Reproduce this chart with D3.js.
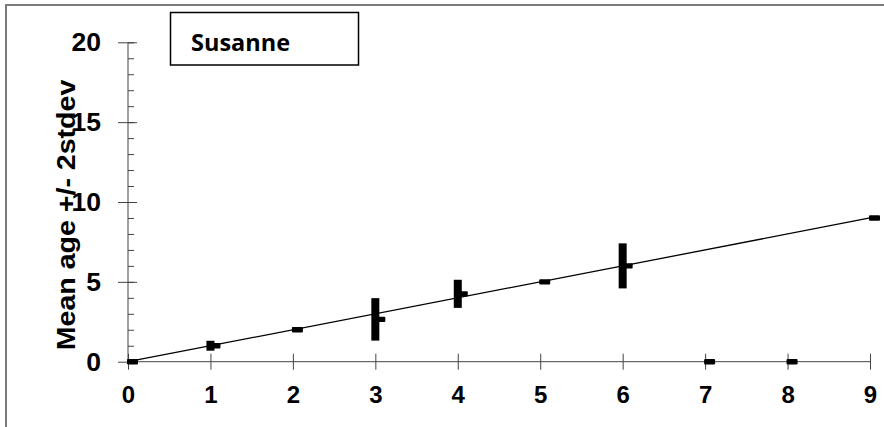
<!DOCTYPE html>
<html>
<head>
<meta charset="utf-8">
<script src="https://cdn.jsdelivr.net/npm/d3@7"></script>
<style>
  html, body { margin: 0; padding: 0; background: #fff; }
  svg { display: block; }
</style>
</head>
<body>
<svg id="chart" width="884" height="427"></svg>
<script>
// ---- data ----
const ages = [0, 1, 2, 3, 4, 5, 6, 7, 8, 9];
const meanAge = [0, 1.0, 2.0, 2.65, 4.25, 5.0, 6.0, 0, 0, 9.0];
const twoStdev = [0, 0.31, 0, 1.33, 0.88, 0, 1.41, 0, 0, 0];
const refLineX = [0, 9];
const refLineY = [0, 9];
const xTicks = [0, 1, 2, 3, 4, 5, 6, 7, 8, 9];
const yTicks = [0, 5, 10, 15, 20];
const yMinorTicks = d3.range(0, 21, 1);
const legendLabel = "Susanne";
const yTitle = "Mean age +/- 2stdev";

const svg = d3.select("#chart");
const font = "'Liberation Sans', Arial, sans-serif";

// outer chart frame
svg.append("rect")
  .attr("x", 6).attr("y", 5).attr("width", 900).attr("height", 440)
  .attr("fill", "none").attr("stroke", "#7a7a7a").attr("stroke-width", 2);

const x = d3.scaleLinear().domain([0, 9]).range([128, 870]);
const y = d3.scaleLinear().domain([0, 20]).range([361.7, 42.3]);

// y minor ticks (inside, right)
const yMinor = d3.axisRight(y).tickValues(yMinorTicks).tickSize(6).tickFormat("");
svg.append("g").attr("transform", `translate(${x(0)},0)`).call(yMinor)
  .call(g => g.select(".domain").remove())
  .call(g => g.selectAll("line").attr("stroke", "#444"));

// y major ticks (cross)
const yAxis = d3.axisLeft(y).tickValues(yTicks).tickSize(10).tickPadding(17).tickFormat(d3.format("d"));
const gy = svg.append("g").attr("transform", `translate(${x(0)},0)`).call(yAxis);
gy.select(".domain").attr("stroke", "#444").attr("d", `M0,${y(0)}V${y(20)}`);
gy.selectAll(".tick line").attr("x1", 9).attr("x2", -10).attr("stroke", "#444");
gy.selectAll(".tick text")
  .attr("font-family", font).attr("font-weight", "bold").attr("font-size", 26.5)
  .attr("fill", "#000");

// x axis
const xAxis = d3.axisBottom(x).tickValues(xTicks).tickSize(8).tickPadding(16).tickFormat(d3.format("d"));
const gx = svg.append("g").attr("transform", `translate(0,${y(0)})`).call(xAxis);
gx.select(".domain").attr("stroke", "#444").attr("d", `M${x(0)},0H${x(9)}`);
gx.selectAll(".tick line").attr("y1", -8).attr("y2", 8).attr("stroke", "#444");
gx.selectAll(".tick text")
  .attr("font-family", font).attr("font-weight", "bold").attr("font-size", 24)
  .attr("fill", "#000");

// reference line y = x
svg.append("path")
  .datum(refLineX.map((d, i) => [d, refLineY[i]]))
  .attr("d", d3.line().x(d => x(d[0])).y(d => y(d[1])))
  .attr("fill", "none").attr("stroke", "#000").attr("stroke-width", 1.3);

const pts = ages.map((a, i) => ({ age: a, mean: meanAge[i], sd2: twoStdev[i] }));

// error bars (thick)
svg.append("g").selectAll("rect").data(pts.filter(d => d.sd2 > 0)).join("rect")
  .attr("x", d => x(d.age) - 4)
  .attr("width", 8)
  .attr("y", d => y(d.mean + d.sd2))
  .attr("height", d => y(d.mean - d.sd2) - y(d.mean + d.sd2))
  .attr("fill", "#000");

// mean markers (dash)
svg.append("g").selectAll("rect").data(pts).join("rect")
  .attr("x", d => x(d.age) + 4.5 - 5.5)
  .attr("y", d => y(d.mean) - 2.7)
  .attr("width", 11)
  .attr("height", 5.4)
  .attr("rx", 1)
  .attr("fill", "#000");

// y title
svg.append("text")
  .attr("transform", "translate(75,215) rotate(-90) scale(1.12,1)")
  .attr("text-anchor", "middle")
  .attr("font-family", font).attr("font-weight", "bold").attr("font-size", 25.5)
  .attr("fill", "#000")
  .text(yTitle);

// legend box
svg.append("rect")
  .attr("x", 170.5).attr("y", 12.5).attr("width", 188).attr("height", 52.5)
  .attr("fill", "#fff").attr("stroke", "#000").attr("stroke-width", 1.5);
svg.append("text")
  .attr("x", 191).attr("y", 50.5)
  .attr("font-family", "'Open Sans', sans-serif").attr("font-weight", "bold").attr("font-size", 23.5)
  .attr("fill", "#000")
  .text(legendLabel);
</script>
</body>
</html>
